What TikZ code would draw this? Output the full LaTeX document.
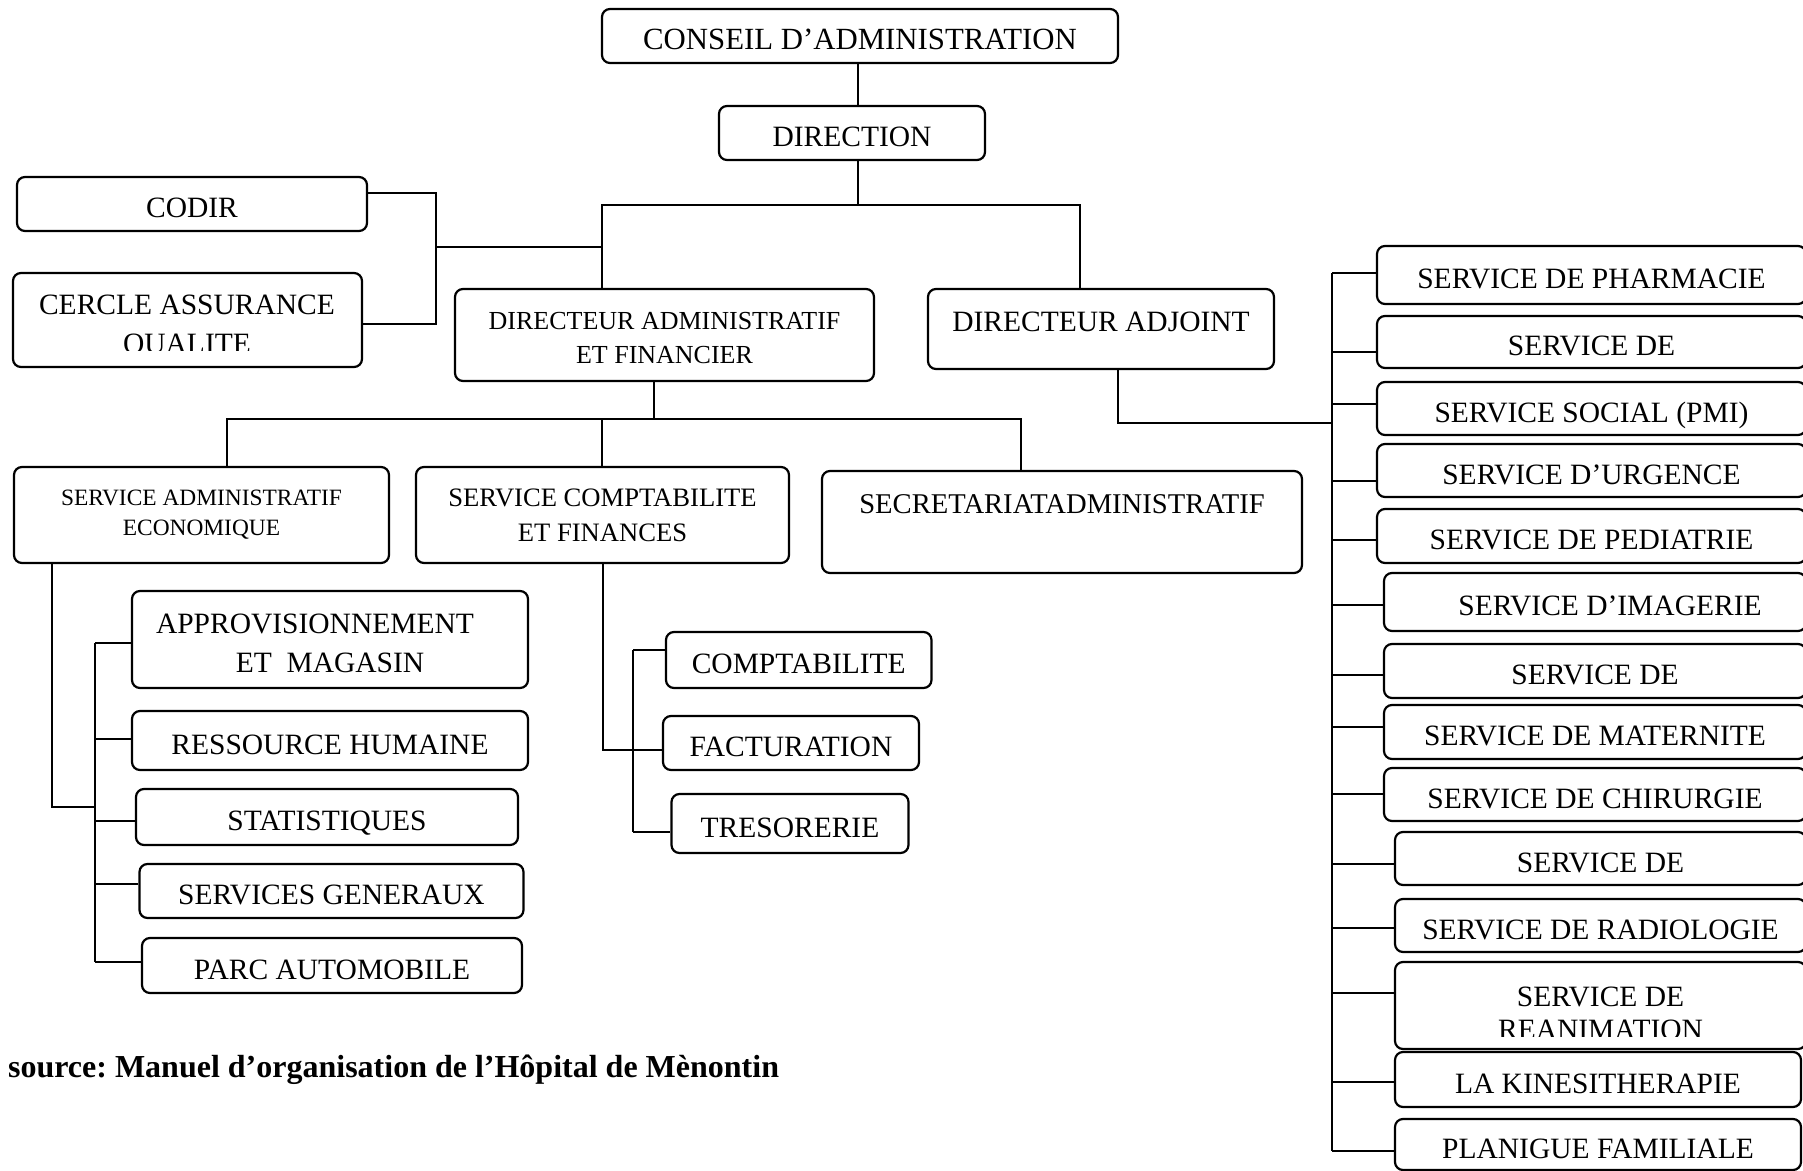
\documentclass[tikz,border=0pt]{standalone}
\usepackage{fontspec}
\setmainfont{Liberation Serif}
\tikzset{
  boxtwo/.style={draw,rounded corners=4pt,line width=1.1pt,align=center,inner sep=0pt},
  box/.style={boxtwo,text height=13.6pt,text depth=0pt},
  txt/.style={align=center,inner sep=0pt},
}
\begin{document}
\begin{tikzpicture}[x=.5pt,y=-.5pt,line width=1.1pt,
 font=\fontsize{14.75}{19}\selectfont]
\clip (0,0) rectangle (1803,1171);
% top of the chart
\node[box,minimum width=258pt,minimum height=27pt,font=\fontsize{15.4}{18}\selectfont] (conseil) at (860,36) {CONSEIL D’ADMINISTRATION};
\node[box,minimum width=133pt,minimum height=27pt] (direction) at (852,133) {DIRECTION};
\node[box,minimum width=175pt,minimum height=27pt] (codir) at (192,204) {CODIR};
\node[box,minimum width=174.5pt,minimum height=47pt] (cercle) at (187.5,320) {};
\begin{scope}
  \clip (13,273) rectangle (362,351);
  \node[txt,font=\fontsize{14.75}{19.5}\selectfont] (cercletxt) at (187,327) {CERCLE ASSURANCE\\QUALITE};
\end{scope}
\node[boxtwo,minimum width=209.5pt,minimum height=46pt,font=\fontsize{13}{17}\selectfont] (daf) at (664.5,335) {\raisebox{-1.5pt}[\height][\depth]{DIRECTEUR ADMINISTRATIF}\\\raisebox{-1.5pt}[\height][\depth]{ET FINANCIER}};
\node[boxtwo,minimum width=173pt,minimum height=40pt] (dadj) at (1101,329) {\raisebox{3.5pt}[\height][\depth]{DIRECTEUR ADJOINT}};
% services
\node[boxtwo,minimum width=187.5pt,minimum height=48pt,font=\fontsize{11.7}{15}\selectfont] (sae) at (201.5,515) {SERVICE ADMINISTRATIF\\ECONOMIQUE};
\node[boxtwo,minimum width=186.5pt,minimum height=48pt,font=\fontsize{13.3}{17.5}\selectfont] (scf) at (602.5,515) {SERVICE COMPTABILITE\\ET FINANCES};
\node[boxtwo,minimum width=240pt,minimum height=51pt,font=\fontsize{14.3}{18}\selectfont] (secr) at (1062,522) {\raisebox{9pt}[\height][\depth]{SECRETARIATADMINISTRATIF}};
\node[boxtwo,minimum width=198pt,minimum height=48.5pt,font=\fontsize{14.75}{19.5}\selectfont] (appro) at (330,639.5) {\raisebox{-2pt}[\height][\depth]{APPROVISIONNEMENT\hspace*{15pt}}\\\raisebox{-2pt}[\height][\depth]{ET\ \ MAGASIN}};
\node[box,minimum width=198pt,minimum height=29.5pt] (rh) at (330,740.5) {RESSOURCE HUMAINE};
\node[box,minimum width=191pt,minimum height=28pt] (stat) at (327,817) {STATISTIQUES};
\node[box,minimum width=192pt,minimum height=27pt] (sg) at (331.5,891) {SERVICES GENERAUX};
\node[box,minimum width=190pt,minimum height=27.5pt] (parc) at (332,965.5) {PARC AUTOMOBILE};
\node[box,minimum width=132.75pt,minimum height=28pt] (compta) at (798.75,660) {COMPTABILITE};
\node[box,minimum width=128pt,minimum height=27pt] (fact) at (791,743) {FACTURATION};
\node[box,minimum width=118.5pt,minimum height=29.5pt] (treso) at (790,823.5) {TRESORERIE};
% right column
\node[box,minimum width=214.5pt,minimum height=29pt] (pharm) at (1591.5,275) {SERVICE DE PHARMACIE};
\node[box,minimum width=214.5pt,minimum height=26pt] (servdea) at (1591.5,342) {SERVICE DE};
\node[box,minimum width=214.5pt,minimum height=26.5pt] (social) at (1591.5,408.5) {SERVICE SOCIAL (PMI)};
\node[box,minimum width=214.5pt,minimum height=26.5pt] (urgence) at (1591.5,470.5) {SERVICE D’URGENCE};
\node[box,minimum width=214.5pt,minimum height=27pt] (pediatrie) at (1591.5,536) {SERVICE DE PEDIATRIE};
\node[box,minimum width=211pt,minimum height=29pt] (imagerie) at (1595,602) {\hspace*{15pt}SERVICE D’IMAGERIE};
\node[box,minimum width=211pt,minimum height=27pt] (servdeb) at (1595,671) {SERVICE DE};
\node[box,minimum width=211pt,minimum height=27pt] (maternite) at (1595,732) {SERVICE DE MATERNITE};
\node[box,minimum width=211pt,minimum height=26.5pt] (chirurgie) at (1595,794.5) {SERVICE DE CHIRURGIE};
\node[box,minimum width=205.5pt,minimum height=26.5pt] (servdec) at (1600.5,858.5) {SERVICE DE};
\node[box,minimum width=205.5pt,minimum height=26.5pt] (radiologie) at (1600.5,925.5) {SERVICE DE RADIOLOGIE};
\node[box,minimum width=205.5pt,minimum height=43.5pt] (reanimation) at (1600.5,1005.5) {};
\begin{scope}
  \clip (1395,962) rectangle (1806,1036);
  \node[txt,font=\fontsize{14.75}{16.5}\selectfont] (reanimtxt) at (1600.5,1013.5) {SERVICE DE\\REANIMATION};
\end{scope}
\node[box,minimum width=203pt,minimum height=27.5pt] (kine) at (1598,1079.5) {LA KINESITHERAPIE};
\node[box,minimum width=203pt,minimum height=25.5pt] (planigue) at (1598,1144.5) {PLANIGUE FAMILIALE};
\node[anchor=base west,inner sep=0pt,font=\bfseries\fontsize{16}{19}\selectfont] (source) at (7,1077) {source:\ Manuel d’organisation de l’Hôpital de Mènontin};
% direction links
\coordinate (jt) at (858,205);
\coordinate (jl) at (602,205);
\coordinate (jr) at (1080,205);
\draw (conseil.south -| jt) -- (direction.north -| jt);
\draw (direction.south -| jt) -- (jt);
\draw (daf.north -| jl) -- (jl) -- (jr) -- (dadj.north -| jr);
\coordinate (cq) at (436,193);
\coordinate (cqb) at (436,324);
\coordinate (cqm) at (436,247);
\draw (codir.east |- cq) -- (cq) -- (cqb) -- (cercle.east |- cqb);
\draw (cqm) -- (jl |- cqm);
% under daf
\coordinate (ds) at (654,419);
\coordinate (dsl) at (227,419);
\coordinate (dsr) at (1021,419);
\draw (daf.south -| ds) -- (ds);
\draw (sae.north -| dsl) -- (dsl) -- (dsr) -- (secr.north -| dsr);
\draw (scf.north -| jl) -- (jl |- ds);
% sae
\coordinate (sa) at (52,807);
\coordinate (sat) at (95,643);
\coordinate (sab) at (95,962);
\draw (sae.south -| sa) -- (sa) -- (sa -| sat);
\draw (sat) -- (sab);
\draw (sat) -- (appro.west |- sat);
\draw (sat |- 0,739) -- (rh.west |- 0,739);
\draw (sat |- 0,821) -- (stat.west |- 0,821);
\draw (sat |- 0,884) -- (sg.west |- 0,884);
\draw (sab) -- (parc.west |- sab);
% scf
\coordinate (sc) at (603,750);
\coordinate (sct) at (633,650);
\coordinate (scb) at (633,832);
\draw (scf.south -| sc) -- (sc) -- (fact.west |- sc);
\draw (sct) -- (scb);
\draw (sct) -- (compta.west |- sct);
\draw (scb) -- (treso.west |- scb);
% directeur adjoint
\coordinate (da) at (1118,423);
\coordinate (rt) at (1332,273);
\coordinate (rb) at (1332,1151);
\draw (dadj.south -| da) -- (da) -- (da -| rt);
\draw (rt) -- (rb);
\draw (rt) -- (pharm.west |- rt);
\draw (rt |- 0,352) -- (servdea.west |- 0,352);
\draw (rt |- 0,404) -- (social.west |- 0,404);
\draw (rt |- 0,481) -- (urgence.west |- 0,481);
\draw (rt |- 0,540) -- (pediatrie.west |- 0,540);
\draw (rt |- 0,605) -- (imagerie.west |- 0,605);
\draw (rt |- 0,675) -- (servdeb.west |- 0,675);
\draw (rt |- 0,727) -- (maternite.west |- 0,727);
\draw (rt |- 0,794) -- (chirurgie.west |- 0,794);
\draw (rt |- 0,864) -- (servdec.west |- 0,864);
\draw (rt |- 0,928) -- (radiologie.west |- 0,928);
\draw (rt |- 0,993) -- (reanimation.west |- 0,993);
\draw (rt |- 0,1082) -- (kine.west |- 0,1082);
\draw (rb) -- (planigue.west |- rb);
\end{tikzpicture}
\end{document}
